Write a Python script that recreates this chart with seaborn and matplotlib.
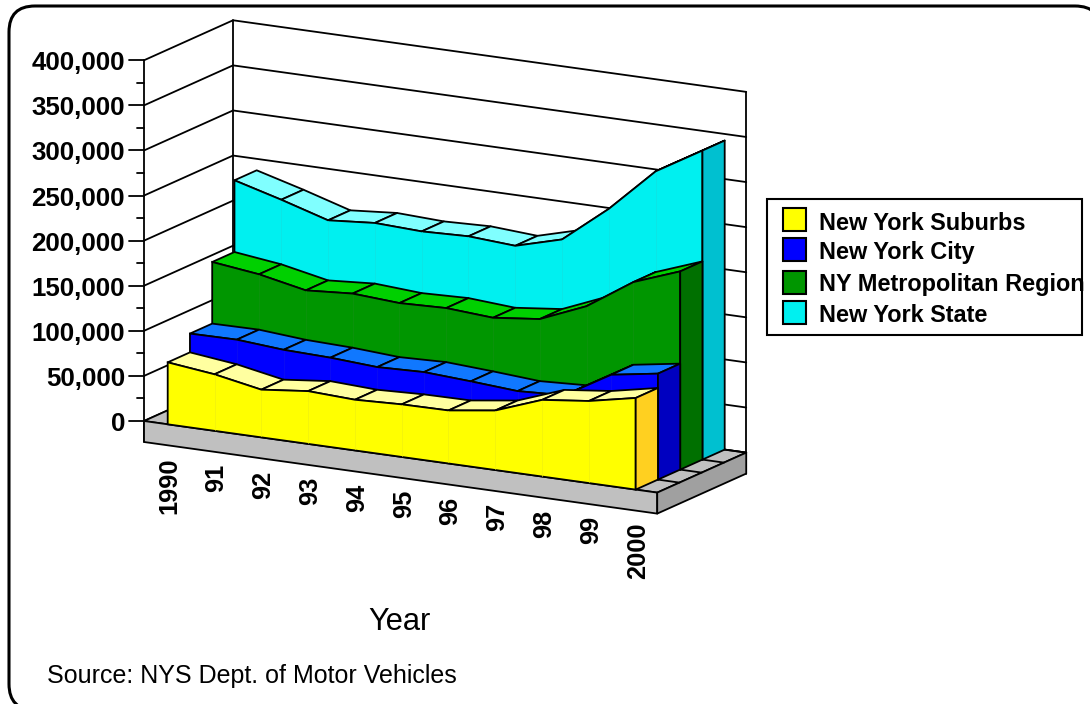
import numpy as np
import pandas as pd
import seaborn as sns
import matplotlib
matplotlib.use('Agg')
import matplotlib.pyplot as plt
from matplotlib.colors import to_rgb
from matplotlib.patches import FancyBboxPatch, Rectangle

# values in thousands of vehicles
years = ['1990', '91', '92', '93', '94', '95', '96', '97', '98', '99', '2000']
suburbs = [68.7, 62.7, 52.9, 58.5, 56.2, 58.3, 58.8, 66.0, 85.0, 91.0, 101.6]
city = [89.5, 90.0, 86.0, 84.5, 81.3, 83.0, 80.0, 76.4, 79.0, 109.0, 117.5]
metro = [157.8, 151.4, 140.8, 144.5, 141.2, 142.9, 139.4, 145.2, 166.7, 200.7, 219.8]
state = [237.3, 223.0, 207.4, 211.7, 209.6, 211.4, 208.1, 222.4, 263.6, 312.4, 342.7]
names = ['New York Suburbs', 'New York City', 'NY Metropolitan Region', 'New York State']
y_ticks = [0, 50, 100, 150, 200, 250, 300, 350, 400]
y_minor = [25, 75, 125, 175, 225, 275, 325, 375]

# front, top, side colour for each series
front_cols = ['#ffff00', '#0000ff', '#009600', '#00f0f0']
top_cols = ['#ffffa0', '#1078ff', '#00d000', '#80ffff']
side_cols = ['#ffd020', '#0000c0', '#007000', '#00c0d0']

sns.set_theme(style='white')
plt.rcParams['font.family'] = ['Liberation Sans', 'DejaVu Sans']

LW = 1.3
z = 10  # painter's order, everything goes on top of what came before


def next_z():
    global z
    z += 1
    return z


# oblique projection: category index, value, depth slot -> pixel
def proj(i, v, d):
    i = np.asarray(i, dtype=float)
    px = 167.7 + 46.8 * i + 22.25 * d
    py = 424.3 + 6.53 * i - 10.0 * d - 0.9018 * np.asarray(v, dtype=float)
    return px, py


def edge(xs, ys, lw=LW, col='black'):
    sns.lineplot(x=xs, y=ys, sort=False, estimator=None, color=col, linewidth=lw, ax=ax,
                 legend=False, zorder=next_z())


def quad(xs, ys, col):
    ax.fill(xs, ys, facecolor=col, edgecolor='black', linewidth=LW, joinstyle='round', zorder=next_z())


fig, ax = plt.subplots(figsize=(10.9, 7.04), dpi=100)
fig.subplots_adjust(0, 0, 1, 1)

L = -0.506
R = 10.46
SLAB = 21

# outer frame, runs off the right and bottom of the image
ax.add_patch(FancyBboxPatch((9, 6), 1092, 704, boxstyle='round,pad=0,rounding_size=26',
                            facecolor='white', edgecolor='black', linewidth=2.2, zorder=1))

# left and back walls
for t in y_ticks:
    x0, y0 = proj(L, t, 0)
    x1, y1 = proj(L, t, 4)
    x2, y2 = proj(R, t, 4)
    edge([x0, x1, x2], [y0, y1, y2])
    edge([x0 - 15, x0], [y0, y0])
for t in y_minor:
    x0, y0 = proj(L, t, 0)
    edge([x0 - 7, x0], [y0, y0])
x0, y0 = proj(L, 400, 0)
x1, y1 = proj(L, 0, 0)
edge([x0, x1], [y0, y1 + SLAB])
x0, y0 = proj(L, 400, 4)
x1, y1 = proj(L, 0, 4)
edge([x0, x1], [y0, y1])
x0, y0 = proj(R, 400, 4)
x1, y1 = proj(R, 0, 4)
edge([x0, x1], [y0, y1 + SLAB])

# floor slab
cx = [proj(L, 0, 0), proj(R, 0, 0), proj(R, 0, 4), proj(L, 0, 4)]
quad([p[0] for p in cx], [p[1] for p in cx], '#c0c0c0')
quad([cx[0][0], cx[1][0], cx[1][0], cx[0][0]],
     [cx[0][1], cx[1][1], cx[1][1] + SLAB, cx[0][1] + SLAB], '#c0c0c0')
quad([cx[1][0], cx[2][0], cx[2][0], cx[1][0]],
     [cx[1][1], cx[2][1], cx[2][1] + SLAB, cx[1][1] + SLAB], '#a0a0a0')

# series, back to front
series = [suburbs, city, metro, state]
idx = np.arange(len(years))
for d in [3, 2, 1, 0]:
    vals = np.array(series[d])
    # floor line running out from the end of the series
    x0, y0 = proj(idx[-1], 0, d + 1)
    x1, y1 = proj(R, 0, d + 1)
    edge([x0, x1], [y0, y1])
    fx, fy = proj(idx, vals, d)
    bx, by = proj(idx, vals, d + 1)
    for i in idx[:-1]:
        quad([fx[i], fx[i + 1], bx[i + 1], bx[i]], [fy[i], fy[i + 1], by[i + 1], by[i]], top_cols[d])
    zx, zy = proj(idx, 0 * vals, d)
    ax.fill(np.r_[fx, zx[::-1]], np.r_[fy, zy[::-1]], facecolor=front_cols[d], edgecolor='black',
            linewidth=LW, zorder=next_z())
    # faint seams between the yearly panels
    seam = tuple(0.88 * c + 0.06 for c in to_rgb(front_cols[d]))
    for i in idx[1:-1]:
        edge([fx[i], zx[i]], [fy[i] + 1, zy[i] - 1], lw=0.5, col=seam)
    # end face
    ex, ey = proj(idx[-1], 0, d + 1)
    quad([fx[-1], bx[-1], ex, zx[-1]], [fy[-1], by[-1], ey, zy[-1]], side_cols[d])

# tick labels
for t in y_ticks:
    x0, y0 = proj(L, t, 0)
    ax.text(125, y0 + 0.5, f'{t * 1000:,}', ha='right', va='center_baseline', fontsize=18.6,
            fontweight='bold', color='black', zorder=200)
for i, lab in enumerate(years):
    px, py = proj(i, 0, 0)
    ax.text(px + 2, py + 33, lab, rotation=90, ha='center', va='top', fontsize=18.3,
            fontweight='bold', color='black', zorder=200)

ax.text(399, 622, 'Year', ha='center', va='center', fontsize=22.2, color='black', zorder=200)
ax.text(47, 676, 'Source: NYS Dept. of Motor Vehicles', ha='left', va='center', fontsize=18,
        color='black', zorder=200)

# legend
ax.add_patch(Rectangle((767, 199), 315, 136, facecolor='white', edgecolor='black', linewidth=1.5, zorder=150))
swatch_y = [208, 238, 271, 301]
text_y = [223.5, 253, 285, 315.5]
for k in range(4):
    ax.add_patch(Rectangle((783, swatch_y[k]), 23, 23, facecolor=front_cols[k], edgecolor='black',
                           linewidth=1.5, zorder=160))
    ax.text(819, text_y[k], names[k], ha='left', va='center', fontsize=16.9, fontweight='bold',
            color='black', zorder=200)

ax.set_xlim(0, 1090)
ax.set_ylim(704, 0)
ax.axis('off')
plt.savefig('out.png', dpi=100)
